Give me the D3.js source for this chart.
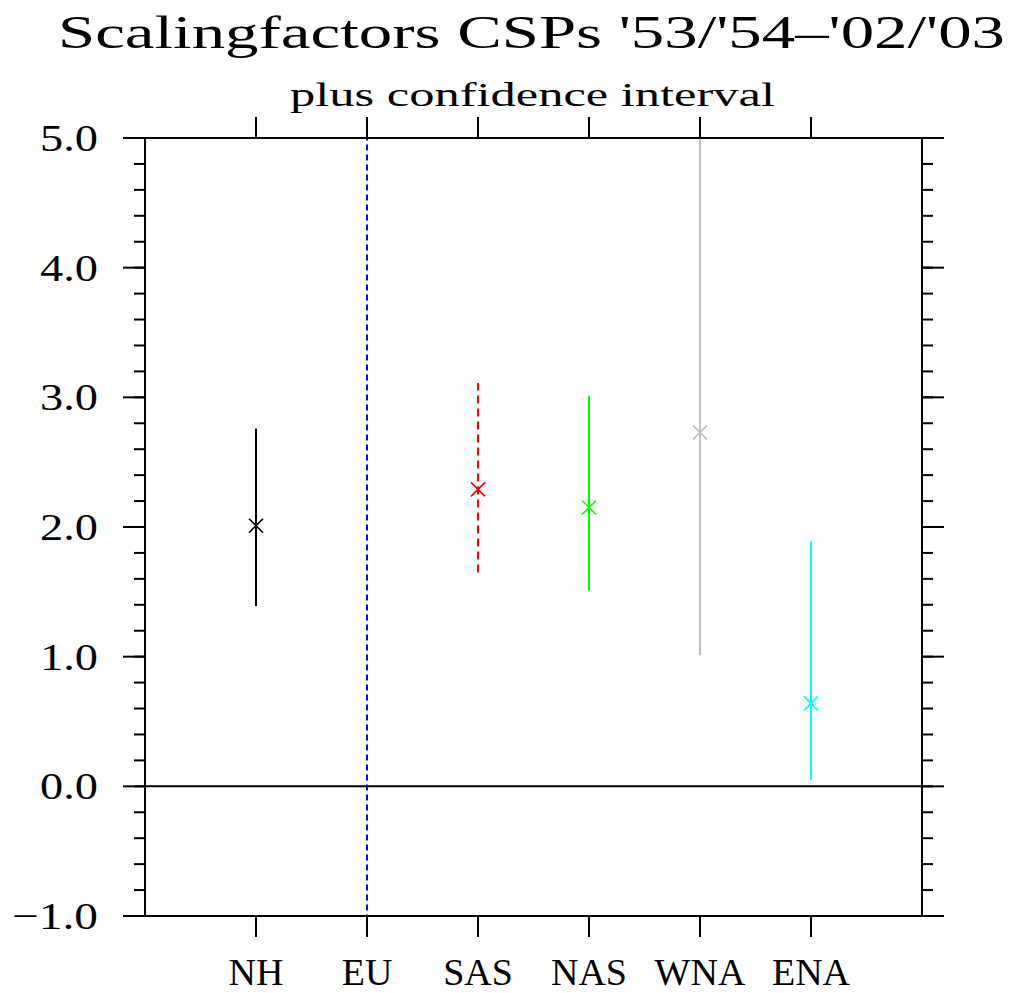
<!DOCTYPE html>
<html><head><meta charset="utf-8">
<script src="https://cdn.jsdelivr.net/npm/d3@7"></script>
<style>body{margin:0;background:#fff}svg{display:block}</style>
</head><body>
<script>
const categories = ["NH","EU","SAS","NAS","WNA","ENA"];
const centers = [2.01, 5.6, 2.29, 2.15, 2.73, 0.64];
const lowers  = [1.39, -2.5, 1.65, 1.51, 1.01, 0.05];
const uppers  = [2.76, 8.0, 3.11, 3.01, 6.5, 1.89];
const colors  = ["#000000","#0000ff","#ff0000","#00ff00","#c0c0c0","#00ffff"];
const dashes  = [null,"6,4","8,5",null,null,null];
const yTicks = [-1,0,1,2,3,4,5];
const yTickLabels = ["\u22121.0","0.0","1.0","2.0","3.0","4.0","5.0"];

const W=1015,H=993;
const L=145,R=922,T=138,B=916;
const svg=d3.select("body").append("svg").attr("width",W).attr("height",H);
const x=d3.scaleLinear().domain([0,categories.length+1]).range([L,R]);
const y=d3.scaleLinear().domain([-1,5]).range([B,T]);
const font="'Liberation Serif','DejaVu Serif',serif";

svg.append("defs").append("clipPath").attr("id","clip")
  .append("rect").attr("x",L).attr("y",T).attr("width",R-L).attr("height",B-T);

// title
svg.append("text").attr("x",58).attr("y",48).attr("font-family",font).attr("font-size",46)
  .attr("textLength",947).attr("lengthAdjust","spacingAndGlyphs")
  .text("Scalingfactors CSPs '53/'54\u2013'02/'03");
svg.append("text").attr("x",290).attr("y",106).attr("font-family",font).attr("font-size",34)
  .attr("textLength",485).attr("lengthAdjust","spacingAndGlyphs")
  .text("plus confidence interval");

// zero line
svg.append("line").attr("x1",L).attr("x2",R).attr("y1",y(0)).attr("y2",y(0))
  .attr("stroke","#000").attr("stroke-width",2);

// y ticks
const minor=d3.range(-1,5.0001,0.2);
[["left",-1],["right",1]].forEach(([side,dir])=>{
  const x0= side==="left"?L:R;
  svg.append("g").selectAll("line").data(minor).join("line")
    .attr("x1",x0).attr("x2",x0+dir*11).attr("y1",d=>y(d)).attr("y2",d=>y(d))
    .attr("stroke","#000").attr("stroke-width",2);
  svg.append("g").selectAll("line").data(yTicks).join("line")
    .attr("x1",x0).attr("x2",x0+dir*22).attr("y1",d=>y(d)).attr("y2",d=>y(d))
    .attr("stroke","#000").attr("stroke-width",2);
});
svg.append("g").selectAll("text").data(yTicks).join("text")
  .attr("x",98).attr("y",d=>y(d)+13).attr("text-anchor","end")
  .attr("font-family",font).attr("font-size",38)
  .attr("textLength",(d,i)=>yTickLabels[i].length>3?86:58).attr("lengthAdjust","spacingAndGlyphs")
  .text((d,i)=>yTickLabels[i]);

// x ticks
const xi=categories.map((c,i)=>i+1);
svg.append("g").selectAll("line").data(xi).join("line")
  .attr("x1",d=>x(d)).attr("x2",d=>x(d)).attr("y1",B).attr("y2",B+21)
  .attr("stroke","#000").attr("stroke-width",2);
svg.append("g").selectAll("line").data(xi).join("line")
  .attr("x1",d=>x(d)).attr("x2",d=>x(d)).attr("y1",T).attr("y2",T-21)
  .attr("stroke","#000").attr("stroke-width",2);
svg.append("g").selectAll("text").data(categories).join("text")
  .attr("x",(d,i)=>x(i+1)).attr("y",985).attr("text-anchor","middle")
  .attr("font-family",font).attr("font-size",38)
  .text(d=>d);

// error bars
const g=svg.append("g").attr("clip-path","url(#clip)");
g.selectAll("line.err").data(categories).join("line").attr("class","err")
  .attr("x1",(d,i)=>x(i+1)).attr("x2",(d,i)=>x(i+1))
  .attr("y1",(d,i)=>y(lowers[i])).attr("y2",(d,i)=>y(uppers[i]))
  .attr("stroke",(d,i)=>colors[i]).attr("stroke-width",2)
  .attr("stroke-dasharray",(d,i)=>dashes[i]);
const s=7;
categories.forEach((c,i)=>{
  const cx=x(i+1), cy=y(centers[i]);
  g.append("path").attr("d",`M${cx-s},${cy-s}L${cx+s},${cy+s}M${cx-s},${cy+s}L${cx+s},${cy-s}`)
    .attr("stroke",colors[i]).attr("stroke-width",1.6).attr("fill","none");
});

// frame
svg.append("rect").attr("x",L).attr("y",T).attr("width",R-L).attr("height",B-T)
  .attr("fill","none").attr("stroke","#000").attr("stroke-width",2);
</script>
</body></html>
